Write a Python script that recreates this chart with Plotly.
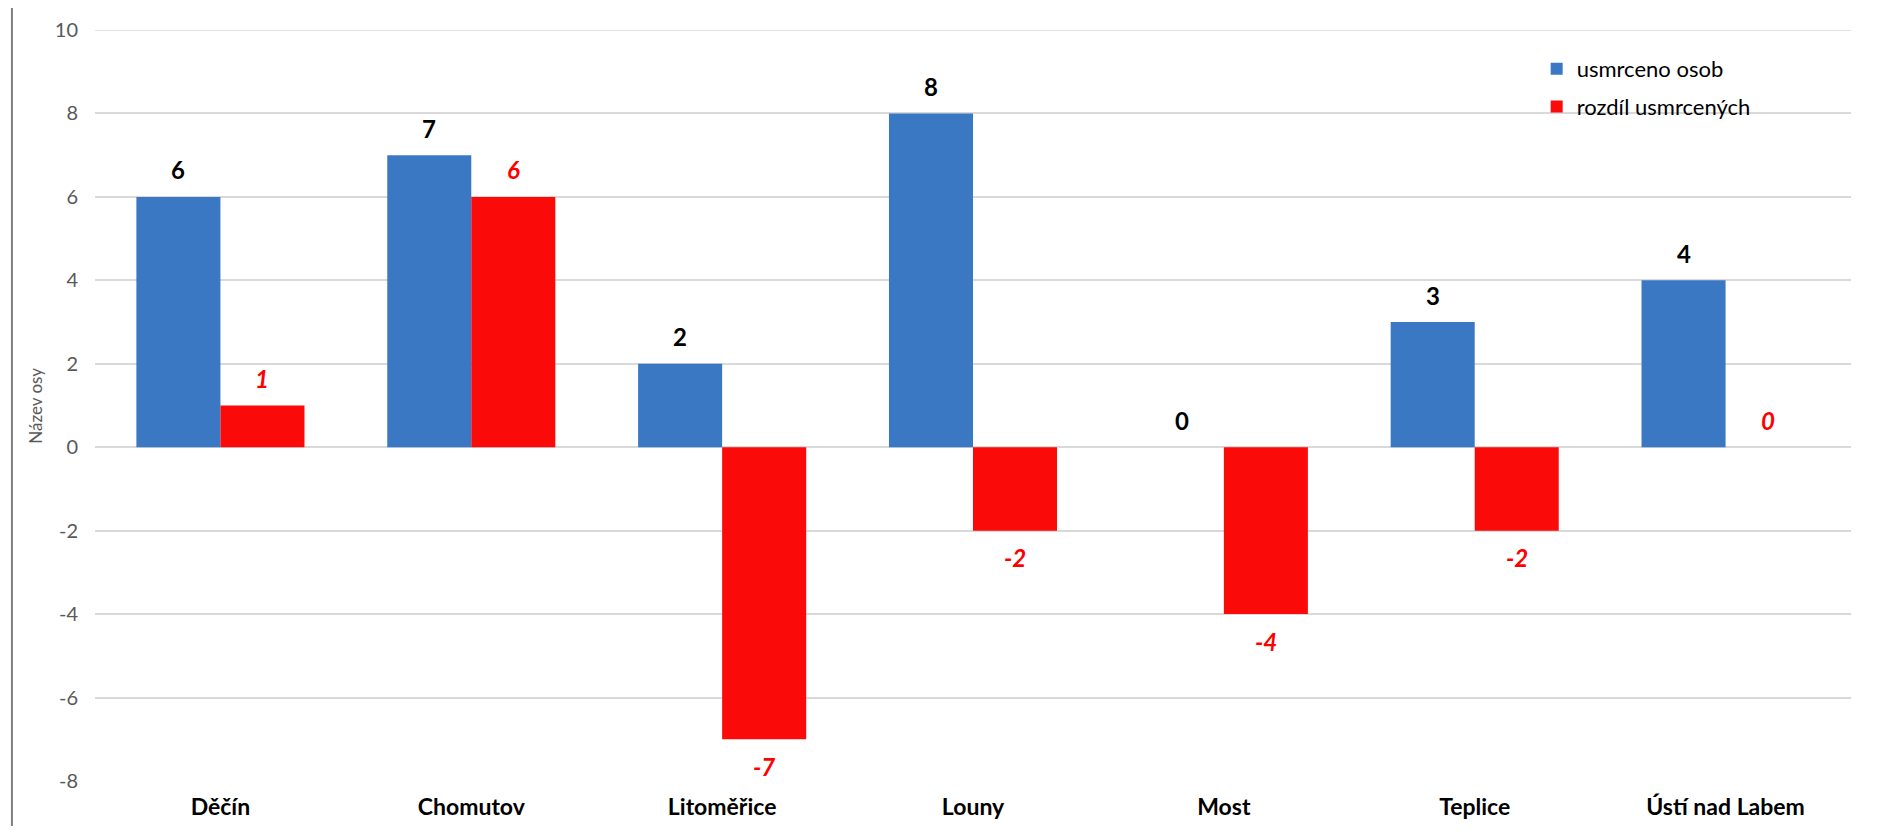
import plotly.graph_objects as go

categories = ["Děčín", "Chomutov", "Litoměřice", "Louny", "Most", "Teplice", "Ústí nad Labem"]
usmrceno = [6, 7, 2, 8, 0, 3, 4]
rozdil = [1, 6, -7, -2, -4, -2, 0]
y_ticks = [-8, -6, -4, -2, 0, 2, 4, 6, 8, 10]
y_tick_text = [str(v) for v in y_ticks]

BLUE = "#3b78c4"
RED = "#fb0a0a"
FONT = "Lato, Open Sans, sans-serif"

fig = go.Figure()
fig.add_trace(go.Bar(
    name="usmrceno osob", x=categories, y=usmrceno,
    marker=dict(color=BLUE, line=dict(width=0)),
    legendgroup="a",
))
fig.add_trace(go.Bar(
    name="rozdíl usmrcených", x=categories, y=rozdil,
    marker=dict(color=RED, line=dict(width=0)),
    legendgroup="b",
))

annotations = []
for c, v in zip(categories, usmrceno):
    annotations.append(dict(
        x=c, y=v, xref="x", yref="y", text=f"<b>{v}</b>", showarrow=False,
        xshift=-42, yshift=27 if v >= 0 else -27, yanchor="middle",
        font=dict(family=FONT, size=24, color="#000000"),
    ))
for c, v in zip(categories, rozdil):
    annotations.append(dict(
        x=c, y=v, xref="x", yref="y", text=f"<b><i>{v}</i></b>", showarrow=False,
        xshift=42, yshift=27 if v >= 0 else -27, yanchor="middle",
        font=dict(family=FONT, size=24, color="#ff0000"),
    ))
annotations.append(dict(
    x=-0.034, y=0.5, xref="paper", yref="paper", text="Název osy",
    textangle=-90, showarrow=False, xanchor="center", yanchor="middle",
    font=dict(family=FONT, size=17, color="#595959"),
))

fig.update_layout(
    width=1861, height=821,
    margin=dict(l=87, r=18, t=9, b=38),
    paper_bgcolor="white", plot_bgcolor="white",
    barmode="group", bargap=0.33, bargroupgap=0,
    font=dict(family=FONT),
    annotations=annotations,
    legend=dict(
        x=0.821, y=0.976, xanchor="left", yanchor="top",
        font=dict(family=FONT, size=22, color="#000000"),
        tracegroupgap=6, bgcolor="rgba(0,0,0,0)",
    ),
    shapes=[
        dict(type="line", xref="paper", yref="paper",
             x0=-0.0473, x1=-0.0473, y0=-0.06, y1=1.03,
             line=dict(color="#808080", width=2)),
        dict(type="line", xref="paper", yref="y",
             x0=0, x1=1, y0=max(y_ticks), y1=max(y_ticks),
             line=dict(color="#d9d9d9", width=1.5), layer="below"),
    ],
)
fig.update_xaxes(
    showgrid=False, showline=False, ticks="",
    tickfont=dict(family=FONT, size=23, color="#000000", weight="bold"),
    ticklabelstandoff=10,
)
fig.update_yaxes(
    range=[-8, 10], tickvals=y_ticks, ticktext=y_tick_text,
    showgrid=True, gridcolor="#d9d9d9",
    gridwidth=1.5, zeroline=True, zerolinecolor="#d9d9d9", zerolinewidth=1.5,
    showline=False, ticks="", ticklabeloverflow="allow",
    tickfont=dict(family=FONT, size=20, color="#595959"),
    ticklabelstandoff=16,
)

fig.write_html("out.html")
